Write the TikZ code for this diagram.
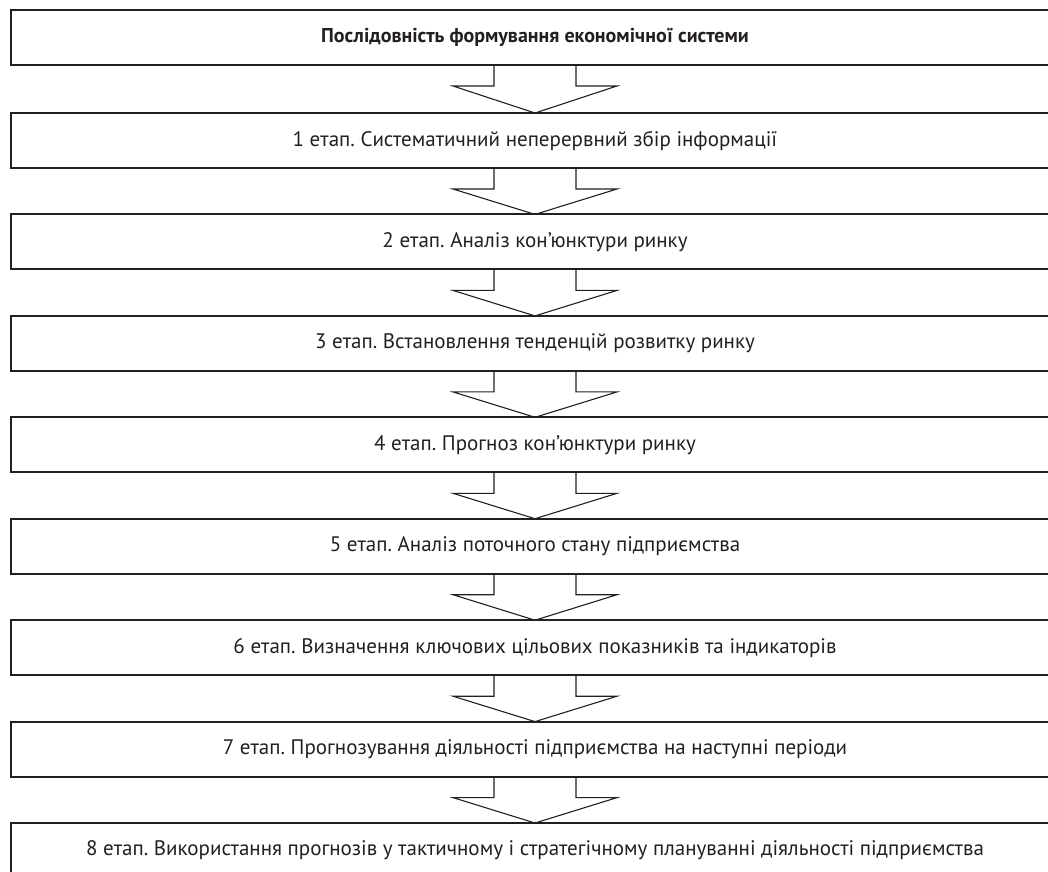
\documentclass[tikz,border=0pt]{standalone}
\usepackage{fontspec}
\setmainfont{PT Sans}
\usetikzlibrary{calc}
\definecolor{ink}{HTML}{231F20}
\frenchspacing
\begin{document}
\begin{tikzpicture}[x=1pt,y=-1pt,
  stage/.style={draw=ink, line width=2pt, minimum width=1048pt, minimum height=55pt,
    inner sep=0pt, outer sep=0pt, text=ink, font=\fontsize{21}{25}\selectfont},
  title/.style={stage, font=\bfseries\fontsize{20}{24}\selectfont},
  arr/.style={draw=ink, line width=1.1pt, line join=miter}]
\useasboundingbox (0,0) rectangle (1048,871);
\clip (0,0) rectangle (1048,871);
\node[title] (s0) at (535,37.5) {Послідовність формування економічної системи};
\node[stage] (s1) at (535,140.5) {1 етап. Систематичний неперервний збір інформації};
\node[stage] (s2) at (535,241.9) {2 етап. Аналіз кон’юнктури ринку};
\node[stage] (s3) at (535,343.4) {3 етап. Встановлення тенденцій розвитку ринку};
\node[stage] (s4) at (535,444.8) {4 етап. Прогноз кон’юнктури ринку};
\node[stage] (s5) at (535,546.2) {5 етап. Аналіз поточного стану підприємства};
\node[stage] (s6) at (535,647.7) {6 етап. Визначення ключових цільових показників та індикаторів};
\node[stage] (s7) at (535,749.1) {7 етап. Прогнозування діяльності підприємства на наступні періоди};
\node[stage] (s8) at (535,850.5) {8 етап. Використання прогнозів у тактичному і стратегічному плануванні діяльності підприємства};
\foreach \a/\b in {s0/s1,s1/s2,s2/s3,s3/s4,s4/s5,s5/s6,s6/s7,s7/s8}{
  \draw[arr] ($(\a.south)+(-41,0)$) -- ++(0,21) -- ++(-41,0) -- (\b.north)
    -- ($(\a.south)+(82,21)$) -- ++(-41,0) -- ++(0,-21);
}
\end{tikzpicture}
\end{document}
